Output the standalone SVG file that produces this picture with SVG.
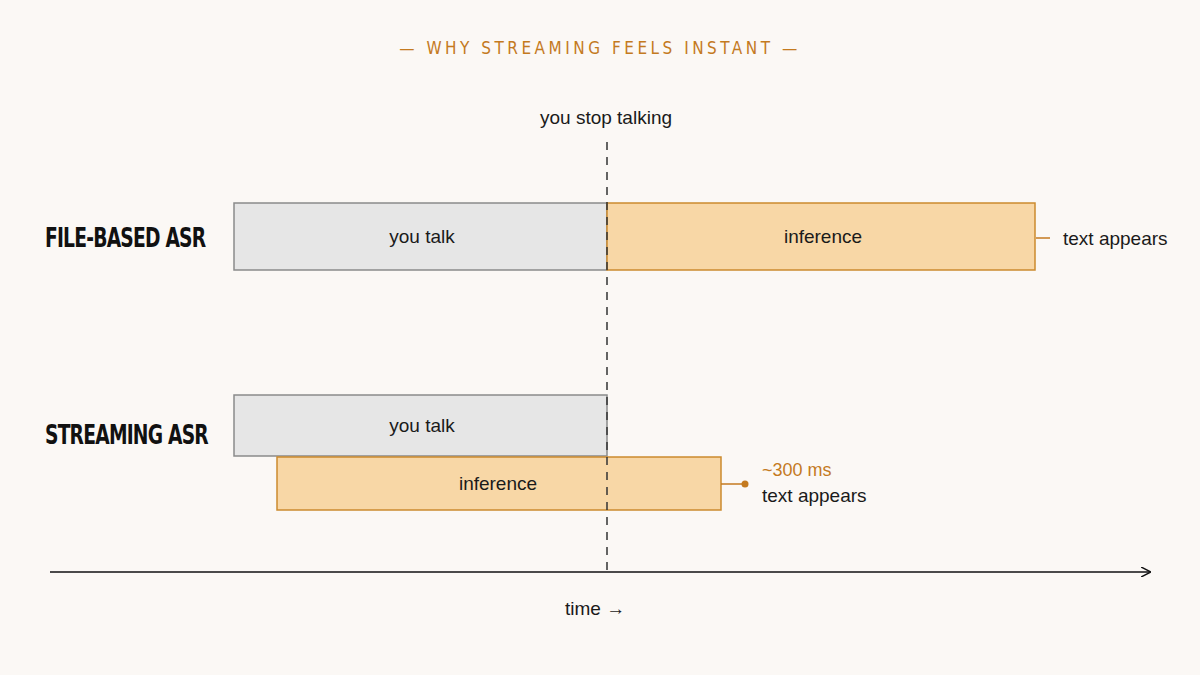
<svg xmlns="http://www.w3.org/2000/svg" width="1200" height="675" viewBox="0 0 1200 675">
<defs>
<style>
.t{font-family:"Liberation Sans",Arial,sans-serif;font-size:19px;fill:#1a1a1a}
.h{font-family:"DejaVu Sans Condensed","DejaVu Sans",sans-serif;font-weight:bold;font-size:26px;fill:#111;letter-spacing:-1px}
.talk{fill:#e6e6e6;stroke:#8a8a8a;stroke-width:1.5}
.inf{fill:#f8d7a6;stroke:#cc8a2e;stroke-width:1.5}
.o{fill:#c47a1f}
</style>
<marker id="ah" viewBox="0 0 10 10" refX="9" refY="5" markerWidth="10" markerHeight="10" markerUnits="userSpaceOnUse" orient="auto"><path d="M0,0 L10,5 L0,10" fill="none" stroke="#111" stroke-width="1.5"/></marker>
</defs>
<rect width="1200" height="675" fill="#fbf8f5"/>
<text x="600" y="54" text-anchor="middle" font-family="'DejaVu Sans Condensed','Liberation Sans',sans-serif" font-size="17" letter-spacing="3.5" class="o">— WHY STREAMING FEELS INSTANT —</text>
<text class="h" x="45" y="247" transform="translate(45 0) scale(0.8 1) translate(-45 0)" transform-origin="0 0">FILE-BASED ASR</text>
<text class="h" x="45" y="444" transform="translate(9 0) scale(0.8 1)">STREAMING ASR</text>
<g id="file-talk"><rect class="talk" x="234" y="203" width="373" height="67"/><text class="t" x="422" y="243" text-anchor="middle">you talk</text></g>
<g id="file-inf"><rect class="inf" x="607" y="203" width="428" height="67"/><text class="t" x="823" y="243" text-anchor="middle">inference</text></g>
<g id="stream-talk"><rect class="talk" x="234" y="395" width="373" height="61"/><text class="t" x="422" y="432" text-anchor="middle">you talk</text></g>
<g id="stream-inf"><rect class="inf" x="277" y="457" width="444" height="53"/><text class="t" x="498" y="490" text-anchor="middle">inference</text></g>
<text class="t" x="606" y="124" text-anchor="middle">you stop talking</text>
<text class="t" x="1063" y="245">text appears</text>
<text x="762" y="476" font-family="'Liberation Sans',Arial,sans-serif" font-size="18" class="o">~300 ms</text>
<text class="t" x="762" y="502">text appears</text>
<text class="t" x="565" y="615">time →</text>
<g id="connectors">
<line x1="607" y1="142" x2="607" y2="572" stroke="#333" stroke-width="1.5" stroke-dasharray="8,7"/>
<line x1="50" y1="572" x2="1150" y2="572" stroke="#111" stroke-width="1.5" marker-end="url(#ah)"/>
<line x1="1036" y1="238" x2="1050" y2="238" stroke="#c47a1f" stroke-width="1.5"/>
<line x1="721" y1="484" x2="745" y2="484" stroke="#c47a1f" stroke-width="1.5"/>
<circle cx="745" cy="484" r="3.5" fill="#c47a1f"/>
</g>
</svg>
